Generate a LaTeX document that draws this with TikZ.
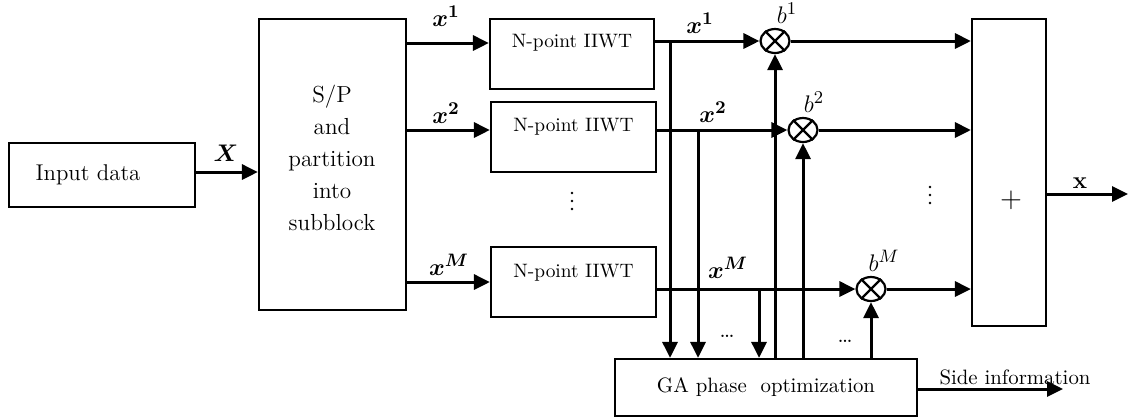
\documentclass[tikz,border=0pt]{standalone}
\usepackage{bm}
\usetikzlibrary{arrows.meta,shapes.geometric}
\begin{document}
\begin{tikzpicture}[x=0.5pt,y=-0.5pt,
  box/.style={draw,line width=1.1pt,inner sep=0pt},
  conn/.style={line width=1.5pt},
  arr/.style={conn,-{Triangle[length=8pt,width=7.5pt]}},
  mult/.style={draw,ellipse,line width=1.1pt,minimum width=14.5pt,minimum height=12pt,inner sep=0pt},
  lab/.style={inner sep=0pt},
  mlab/.style={inner sep=0pt,font=\fontsize{13}{15}\selectfont},
  blab/.style={inner sep=0pt,font=\fontsize{13}{15}\selectfont},
  wt/.style={inner sep=0pt,font=\fontsize{9.7}{11}\selectfont},
  hdots/.style={inner sep=0pt,font=\fontsize{12}{14}\selectfont},
  vdot/.style={fill,circle,inner sep=0pt,minimum size=1.4pt}]
\useasboundingbox (0,0) rectangle (1128,419);

% boxes
\node[box,minimum width=93pt,minimum height=32pt] (in) at (102,175) {};
\node[lab,font=\fontsize{11.4}{13}\selectfont] (intext) at (88,175) {Input data};

\node[box,minimum width=73.5pt,minimum height=145.5pt] (sp) at (332.5,164.5) {};
\node[lab,align=center,font=\fontsize{11.6}{16}\selectfont] (sptext) at (332,158) {S/P\\and\\partition\\into\\subblock};

\node[box,minimum width=82pt,minimum height=35pt] (w1) at (572,54) {};
\node[wt] (w1t) at (572,43) {N-point IIWT};
\node[box,minimum width=82.5pt,minimum height=35pt] (w2) at (573.5,137) {};
\node[wt] (w2t) at (573.5,127) {N-point IIWT};
\node[box,minimum width=82.5pt,minimum height=35pt] (wM) at (573.5,282) {};
\node[wt] (wMt) at (573.5,273) {N-point IIWT};

\node[box,minimum width=37pt,minimum height=153.5pt] (sum) at (1009,172.5) {};
\node[lab,font=\fontsize{14}{16}\selectfont] (plus) at (1011,200) {$+$};

\node[box,minimum width=151pt,minimum height=28.5pt,font=\fontsize{10.4}{12}\selectfont] (ga) at (766,387.5) {GA phase\ \ optimization};

% multipliers
\foreach \n/\px/\py in {m1/775/41, m2/803/130, mM/871/289}{
  \node[mult] (\n) at (\px,\py) {};
  \draw[line width=1.1pt] (\n.45) -- (\n.-135) (\n.135) -- (\n.-45);
}

% row coordinates
\coordinate (yX) at (0,172);
\coordinate (yin1) at (0,43);
\coordinate (yin2) at (0,130);
\coordinate (yinM) at (0,282);
\coordinate (d1) at (670,41);
\coordinate (d2) at (698,130);
\coordinate (dM) at (759,289);
\coordinate (yout) at (0,194);
\coordinate (xend) at (1128,194);
\coordinate (sideend) at (1063,389);

% input
\draw[arr] (in.east |- yX) -- (sp.west |- yX);
\node[mlab] (lX) at (226,153) {$\bm{X}$};

% S/P to IIWT
\draw[arr] (sp.east |- yin1) -- (w1.west |- yin1);
\draw[arr] (sp.east |- yin2) -- (w2.west |- yin2);
\draw[arr] (sp.east |- yinM) -- (wM.west |- yinM);
\node[mlab] (li1) at (446,16) {$\bm{x}^{\bm{1}}$};
\node[mlab] (li2) at (446,113) {$\bm{x}^{\bm{2}}$};
\node[mlab] (liM) at (449,265) {$\bm{x}^{\bm{M}}$};

% IIWT to multipliers
\draw[arr] (w1.east |- m1) -- (m1.west);
\draw[arr] (w2.east |- m2) -- (m2.west);
\draw[arr] (wM.east |- mM) -- (mM.west);
\node[mlab] (lo1) at (700,23) {$\bm{x}^{\bm{1}}$};
\node[mlab] (lo2) at (713,112) {$\bm{x}^{\bm{2}}$};
\node[mlab] (loM) at (728,268) {$\bm{x}^{\bm{M}}$};

% taps down to GA
\draw[arr] (d1) -- (d1 |- ga.north);
\draw[arr] (d2) -- (d2 |- ga.north);
\draw[arr] (dM) -- (dM |- ga.north);
\node[hdots] (dots1) at (727,336) {\dots};

% GA up to multipliers
\draw[arr] (m1 |- ga.north) -- (m1.south);
\draw[arr] (m2 |- ga.north) -- (m2.south);
\draw[arr] (mM |- ga.north) -- (mM.south);
\node[hdots] (dots2) at (845,341) {\dots};

\node[blab] (lb1) at (787,13) {$b^1$};
\node[blab] (lb2) at (814,102) {$b^2$};
\node[blab] (lbM) at (884,261) {$b^M$};

% multipliers to sum
\draw[arr] (m1.east) -- (m1 -| sum.west);
\draw[arr] (m2.east) -- (m2 -| sum.west);
\draw[arr] (mM.east) -- (mM -| sum.west);

% vertical dots
\foreach \yy in {193,201,209}{
  \node[vdot] at (572,\yy) {};
  \node[vdot] at (930,\yy-6) {};
}

% output
\draw[arr] (sum.east |- yout) -- (xend);
\node[mlab] (lx) at (1080,183) {$\mathbf{x}$};

% side information
\draw[arr] (ga.east |- sideend) -- (sideend);
\node[lab,font=\fontsize{10.4}{12}\selectfont] (side) at (1015,377) {Side information};
\end{tikzpicture}
\end{document}
